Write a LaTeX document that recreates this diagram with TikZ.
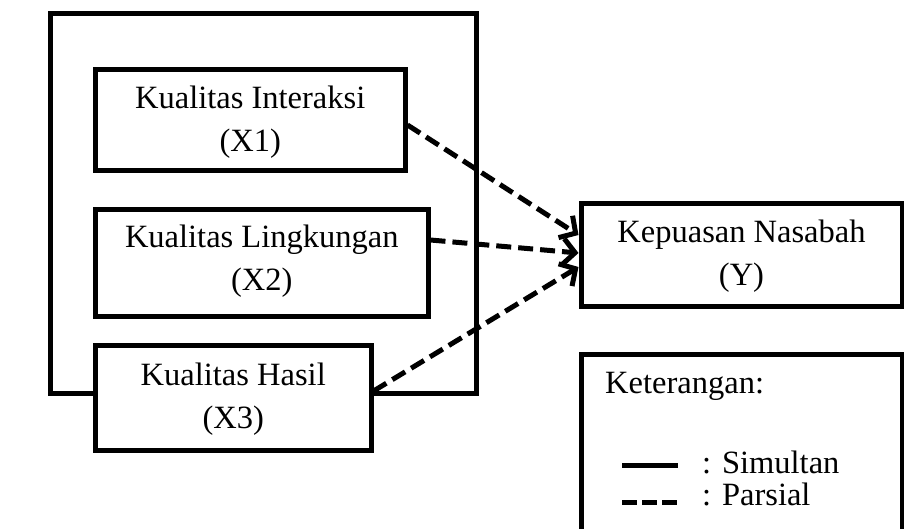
\documentclass[tikz,border=0pt]{standalone}
\usepackage{fontspec}
\setmainfont{Liberation Serif}
\usetikzlibrary{arrows.meta}
\begin{document}
\begin{tikzpicture}[x=1pt,y=-1pt,
  box/.style={draw, fill=white, line width=5pt, inner sep=0pt},
  lbl/.style={font=\fontsize{32.5}{43}\selectfont, align=center, inner sep=0pt},
  arr/.style={line width=5pt, dash pattern=on 15pt off 7pt, -{Straight Barb[length=12pt,width=26pt]}},
  legsolid/.style={line width=5pt},
  legdash/.style={line width=5pt, dash pattern=on 15pt off 5pt}]
\useasboundingbox (0,0) rectangle (904,528);
\node[box, minimum width=426pt, minimum height=380pt] (outer) at (263,203) {};
\node[box, minimum width=309.5pt, minimum height=101pt] (X1) at (250.25,119.5) {};
\node[box, minimum width=332.5pt, minimum height=107pt] (X2) at (261.75,262.5) {};
\node[box, minimum width=275.5pt, minimum height=105pt] (X3) at (233.25,397.5) {};
\node[box, minimum width=321pt, minimum height=103pt] (Y) at (741.5,254.5) {};
\node[box, minimum width=321pt, minimum height=206pt] (leg) at (741.5,457) {};
\node[lbl] (t1) at (250.25,122.5) {Kualitas Interaksi\\(X1)};
\node[lbl] (t2) at (261.75,261.5) {Kualitas Lingkungan\\(X2)};
\node[lbl] (t3) at (233.25,399) {Kualitas Hasil\\(X3)};
\node[lbl] (tY) at (741.5,256.5) {Kepuasan Nasabah\\(Y)};
\draw[arr] ([yshift=-5.5pt]X1.east) -- ([yshift=19.5pt]Y.west);
\draw[arr] ([yshift=22.5pt]X2.east) -- ([yshift=1.5pt]Y.west);
\draw[arr] ([yshift=6.5pt]X3.east) -- ([yshift=-12.5pt]Y.west);
\node[lbl, anchor=base west] (ket) at (605,393) {Keterangan:};
\coordinate (s1) at (622,465);
\coordinate (s2) at (678,465);
\coordinate (d1) at (622,502);
\coordinate (d2) at (678,502);
\draw[legsolid] (s1) -- (s2);
\draw[legdash] (d1) -- (d2);
\node[lbl, anchor=base west] (sim) at (702,473) {: Simultan};
\node[lbl, anchor=base west] (par) at (702,505) {: Parsial};
\end{tikzpicture}
\end{document}
